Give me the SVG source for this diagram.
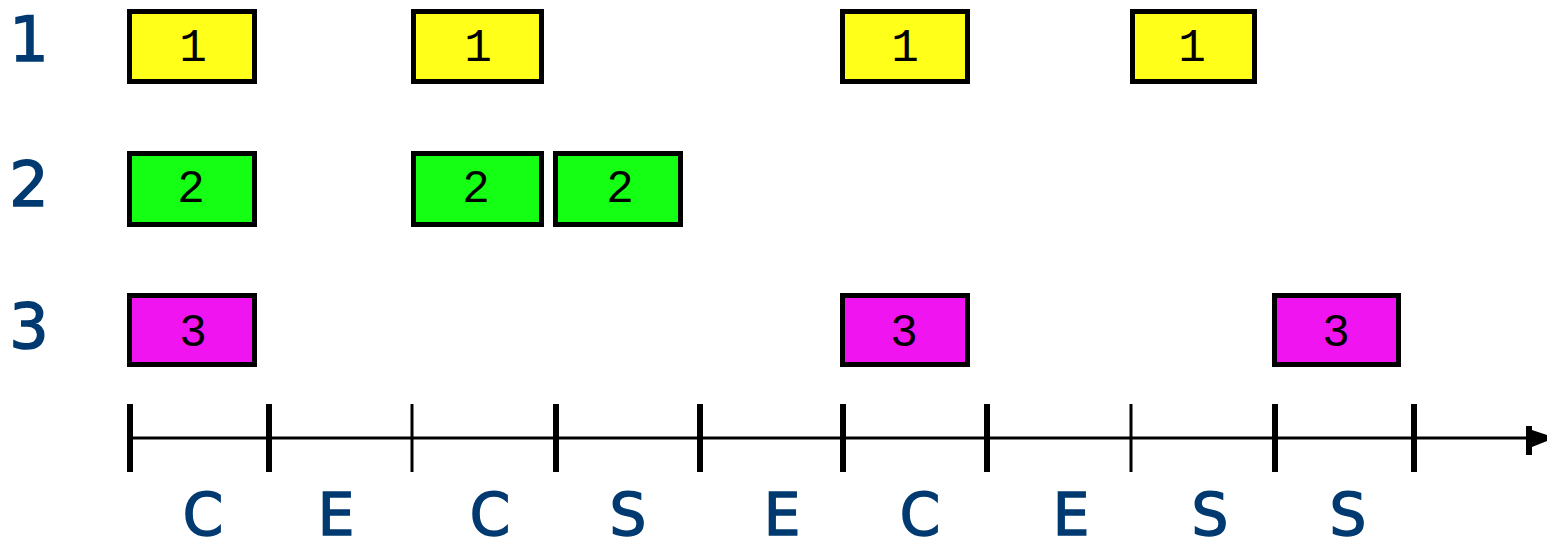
<svg xmlns="http://www.w3.org/2000/svg" width="1551" height="547" viewBox="0 0 1551 547">
<style>
.box{stroke:#000;stroke-width:5}
.y{fill:#ffff1a}
.g{fill:#14ff14}
.m{fill:#f014f0}
.num{font-family:"Liberation Mono",monospace;font-size:46px;fill:#000;text-anchor:middle}
.lbl{font-family:"DejaVu Sans",sans-serif;font-size:62px;fill:#003a70;stroke:#003a70;stroke-width:1.5;text-anchor:middle}
.bl{font-size:58px}
.tk{stroke:#000;stroke-width:6}
.tn{stroke:#000;stroke-width:3}
</style>
<rect width="1551" height="547" fill="#fff"/>
<g id="row-labels">
<text class="lbl" x="29" y="61">1</text>
<text class="lbl" x="29" y="206">2</text>
<text class="lbl" x="29" y="348">3</text>
</g>
<g id="p1-a"><rect class="box y" x="129.5" y="11.5" width="125" height="70"/><text class="num" x="193" y="61">1</text></g>
<g id="p1-b"><rect class="box y" x="413.5" y="11.5" width="128" height="70"/><text class="num" x="478" y="61">1</text></g>
<g id="p1-c"><rect class="box y" x="842.5" y="11.5" width="125" height="70"/><text class="num" x="905" y="61">1</text></g>
<g id="p1-d"><rect class="box y" x="1132.5" y="11.5" width="122" height="70"/><text class="num" x="1192" y="61">1</text></g>
<g id="p2-a"><rect class="box g" x="129.5" y="153.5" width="125" height="71"/><text class="num" x="191" y="202">2</text></g>
<g id="p2-b"><rect class="box g" x="413.5" y="153.5" width="128" height="71"/><text class="num" x="476" y="202">2</text></g>
<g id="p2-c"><rect class="box g" x="555.5" y="153.5" width="125" height="71"/><text class="num" x="620" y="202">2</text></g>
<g id="p3-a"><rect class="box m" x="129.5" y="295.5" width="125" height="69"/><text class="num" x="193" y="346">3</text></g>
<g id="p3-b"><rect class="box m" x="842.5" y="295.5" width="125" height="69"/><text class="num" x="904" y="346">3</text></g>
<g id="p3-c"><rect class="box m" x="1274.5" y="295.5" width="124" height="69"/><text class="num" x="1336" y="346">3</text></g>
<g id="connectors">
<line x1="130" y1="438" x2="1535" y2="438" stroke="#000" stroke-width="3"/>
<path d="M1526,426 L1532,426 L1532,430 L1547,435 L1547,441 L1532,447 L1532,455 L1526,455 Z" fill="#000"/>
<line class="tk" x1="130" y1="404" x2="130" y2="472"/>
<line class="tk" x1="269" y1="404" x2="269" y2="472"/>
<line class="tn" x1="412" y1="404" x2="412" y2="472"/>
<line class="tk" x1="556" y1="404" x2="556" y2="472"/>
<line class="tk" x1="700" y1="404" x2="700" y2="472"/>
<line class="tk" x1="843" y1="404" x2="843" y2="472"/>
<line class="tk" x1="987" y1="404" x2="987" y2="472"/>
<line class="tn" x1="1131" y1="404" x2="1131" y2="472"/>
<line class="tk" x1="1275" y1="404" x2="1275" y2="472"/>
<line class="tk" x1="1414" y1="404" x2="1414" y2="472"/>
</g>
<g id="phase-labels">
<text class="lbl bl" x="203" y="535">C</text>
<text class="lbl bl" x="336" y="535">E</text>
<text class="lbl bl" x="490" y="535">C</text>
<text class="lbl bl" x="628" y="535">S</text>
<text class="lbl bl" x="782" y="535">E</text>
<text class="lbl bl" x="920" y="535">C</text>
<text class="lbl bl" x="1071" y="535">E</text>
<text class="lbl bl" x="1210" y="535">S</text>
<text class="lbl bl" x="1348" y="535">S</text>
</g>
</svg>
